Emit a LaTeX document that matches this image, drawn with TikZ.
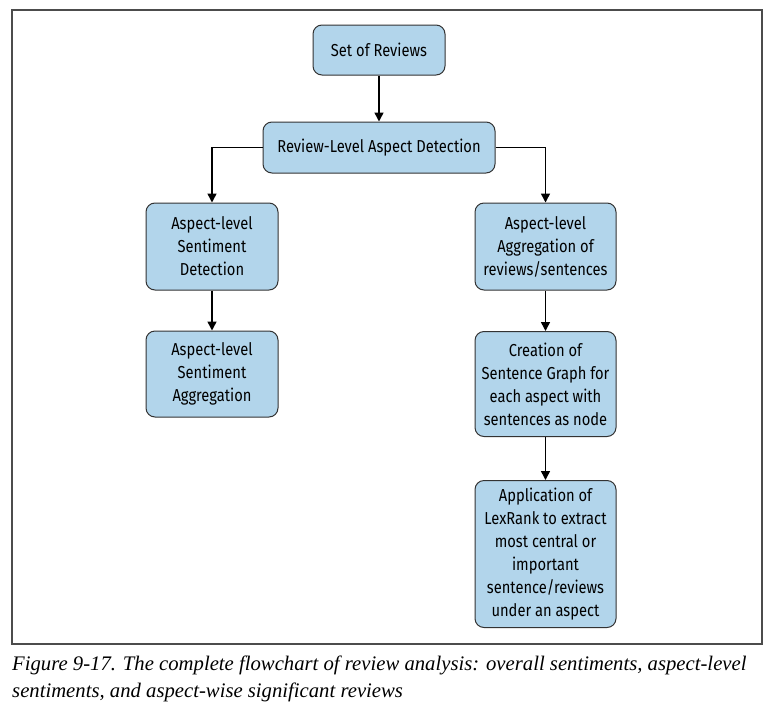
\documentclass[tikz,border=0pt]{standalone}
\usepackage{fontspec}
\setmainfont{Liberation Serif}
\newfontfamily\boxfont{Fira Sans}[FakeStretch=0.85]
\usetikzlibrary{positioning,arrows.meta}
\definecolor{boxblue}{RGB}{178,213,235}

\begin{document}
\begin{tikzpicture}[x=1pt, y=-1pt,
  box/.style = {draw = black!80, fill = boxblue, line width = 1pt, rounded corners = 9pt, align = center, inner sep = 0pt, font = \boxfont\fontsize{17.3}{23}\selectfont},
  arr/.style = {-{Triangle[width=9pt, length=9pt]}, line width = 1.5pt}]
\useasboundingbox (0,0) rectangle (773,707);
\draw[line width = 1.2pt, black!70] (12,10) rectangle (762,644);
% top of the flow
\node[box, minimum width = 132pt, minimum height = 50pt] (set) at (379,50) {Set of Reviews};
\node[box, minimum width = 232pt, minimum height = 51pt] (detect) at (379,147.5) {Review-Level Aspect Detection};
% left branch
\node[box, minimum width = 132pt, minimum height = 87pt] (sentdet) at (212,246.5) {Aspect-level\\Sentiment\\Detection};
\node[box, minimum width = 132pt, minimum height = 86pt] (sentagg) at (212,374) {Aspect-level\\Sentiment\\Aggregation};
% right branch
\node[box, minimum width = 141pt, minimum height = 87pt] (revagg) at (545.5,246.5) {Aspect-level\\Aggregation of\\reviews/sentences};
\node[box, minimum width = 141pt, minimum height = 105pt] (graph) at (545.5,384) {Creation of\\Sentence Graph for\\each aspect with\\sentences as node};
\node[box, minimum width = 141pt, minimum height = 147pt] (lexrank) at (545.5,554) {Application of\\LexRank to extract\\most central or\\important\\sentence/reviews\\under an aspect};
\draw[arr] (set) -- (detect);
\draw[arr] (detect.west) -| (sentdet.north);
\draw[arr] (detect.east) -| (revagg.north);
\draw[arr] (sentdet) -- (sentagg);
\draw[arr] (revagg) -- (graph);
\draw[arr] (graph) -- (lexrank);
% caption
\node[anchor = base west, align = left, inner sep = 0pt, font = \itshape\fontsize{20.7}{27}\selectfont] (caption) at (12,697) {Figure 9-17. The complete flowchart of review analysis: overall sentiments, aspect-level\\sentiments, and aspect-wise significant reviews};
\end{tikzpicture}
\end{document}
